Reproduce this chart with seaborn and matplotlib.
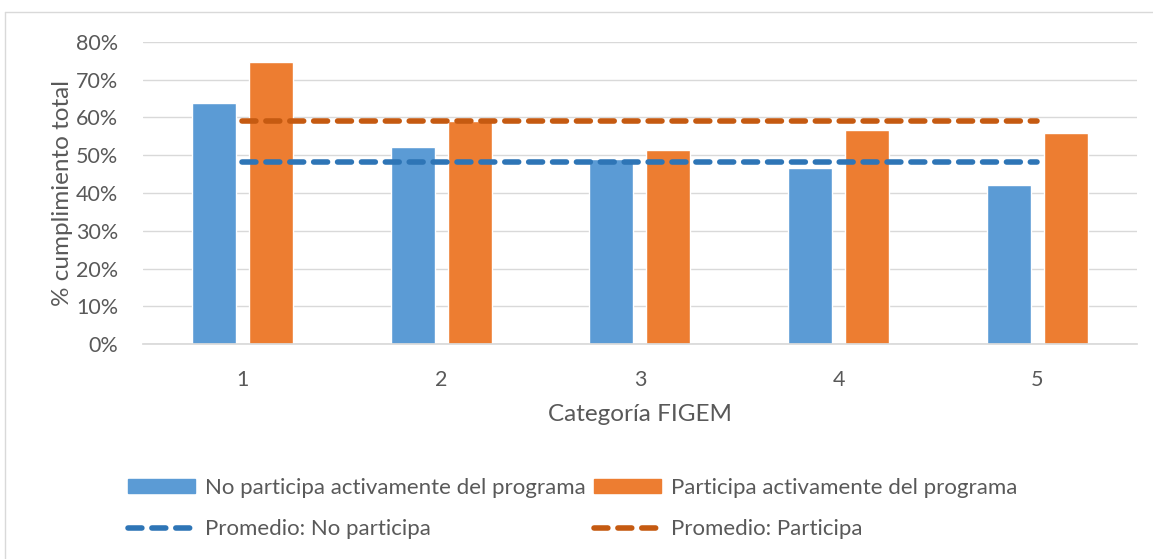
import matplotlib
matplotlib.use("Agg")
import matplotlib.pyplot as plt
from matplotlib.patches import Rectangle
from matplotlib.lines import Line2D
import seaborn as sns
import pandas as pd

categorias = ["1", "2", "3", "4", "5"]
no_participa = [0.638, 0.523, 0.491, 0.465, 0.420]
participa = [0.747, 0.592, 0.514, 0.566, 0.558]
prom_no_participa = 0.482
prom_participa = 0.590

serie_no = "No participa activamente del programa"
serie_si = "Participa activamente del programa"
label_prom_no = "Promedio: No participa"
label_prom_si = "Promedio: Participa"

df = pd.DataFrame({
    "cat": categorias * 2,
    "valor": no_participa + participa,
    "serie": [serie_no] * 5 + [serie_si] * 5,
})

sns.set_theme(style="white")
plt.rcParams["font.family"] = ["Lato", "DejaVu Sans"]
gris = "#595959"

fig = plt.figure(figsize=(11.53, 5.59), dpi=100)
ax = fig.add_axes([0.124, 0.3846, 0.862, 0.5403])

sns.barplot(data=df, x="cat", y="valor", hue="serie", order=categorias,
            palette=["#5B9BD5", "#ED7D31"], width=0.574, gap=0.228,
            errorbar=None, ax=ax, legend=False, saturation=1)

xs = list(range(len(categorias)))
linea_no, = ax.plot(xs, [prom_no_participa] * len(xs), color="#2E75B6", lw=4.0,
                    dashes=(2.5, 1.8), dash_capstyle="round")
linea_si, = ax.plot(xs, [prom_participa] * len(xs), color="#C55A11", lw=4.0,
                    dashes=(2.5, 1.8), dash_capstyle="round")

ax.set_xlim(-0.5, 4.5)
ax.set_ylim(0, 0.8)
ax.set_yticks([i / 10 for i in range(9)])
ax.set_yticklabels([f"{i * 10}%" for i in range(9)])
ax.yaxis.grid(True, color="#D9D9D9", lw=1)
ax.set_axisbelow(True)
for s in ["top", "right", "left"]:
    ax.spines[s].set_visible(False)
ax.spines["bottom"].set_color("#D9D9D9")
ax.tick_params(axis="both", length=0, labelsize=15.5, colors=gris)
ax.tick_params(axis="y", pad=18)
ax.tick_params(axis="x", pad=19)
ax.set_xlabel("Categoría FIGEM", fontsize=17.5, color=gris, labelpad=10)
ax.set_ylabel("% cumplimiento total", fontsize=17.5, color=gris, labelpad=2)

h_no = Rectangle((0, 0), 1, 1, color="#5B9BD5")
h_si = Rectangle((0, 0), 1, 1, color="#ED7D31")
fig.legend([h_no, linea_no, h_si, linea_si],
           [serie_no, label_prom_no, serie_si, label_prom_si],
           ncol=2, loc="upper left", bbox_to_anchor=(0.1015, 0.165),
           frameon=False, fontsize=16, labelcolor=gris,
           handlelength=3.0, handleheight=0.6, handletextpad=0.45,
           columnspacing=0.4, labelspacing=0.95, borderpad=0)

# marco del gráfico (solo visibles arriba e izquierda)
fig.add_artist(Line2D([5 / 1153, 5 / 1153], [0, 1 - 12 / 559],
                      transform=fig.transFigure, color="#D9D9D9", lw=1))
fig.add_artist(Line2D([5 / 1153, 1], [1 - 12 / 559, 1 - 12 / 559],
                      transform=fig.transFigure, color="#D9D9D9", lw=1))

fig.savefig("out.png", dpi=100)
